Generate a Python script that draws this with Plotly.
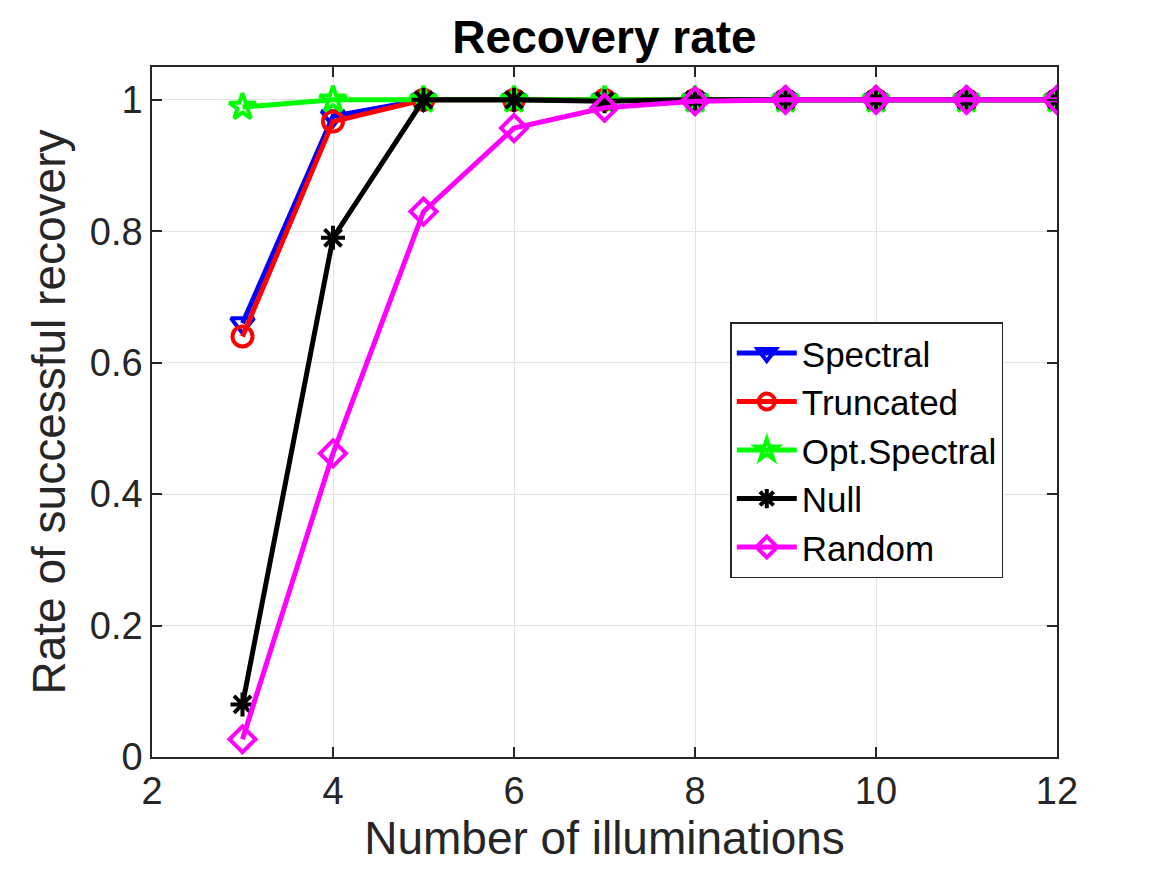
import plotly.graph_objects as go

x_vals = [3, 4, 5, 6, 7, 8, 9, 10, 11, 12]
spectral = [0.66, 0.975, 1, 1, 1, 1, 1, 1, 1, 1]
truncated = [0.64, 0.967, 1, 1, 1, 1, 1, 1, 1, 1]
opt_spectral = [0.989, 1, 1, 1, 1, 1, 1, 1, 1, 1]
null = [0.08, 0.79, 1, 1, 0.998, 1, 1, 1, 1, 1]
random_ = [0.027, 0.462, 0.83, 0.957, 0.988, 0.998, 1, 1, 1, 1]

series = [
    ("Spectral", spectral, "#0000ff", "triangle-down-open"),
    ("Truncated", truncated, "#ff0000", "circle-open"),
    ("Opt.Spectral", opt_spectral, "#00ff00", "star-open"),
    ("Null", null, "#000000", "asterisk-open"),
    ("Random", random_, "#ff00ff", "diamond-open"),
]

FONT = "Liberation Sans, Arial, Helvetica, sans-serif"

fig = go.Figure()
for name, ys, col, sym in series:
    fig.add_trace(go.Scatter(
        x=x_vals, y=ys, name=name, mode="lines+markers",
        line=dict(color=col, width=5),
        marker=dict(symbol=sym, size=20, color=col, line=dict(color=col, width=4)),
    ))

axis_common = dict(
    showline=True, linecolor="#262626", linewidth=1.5, mirror="ticks",
    ticks="inside", ticklen=10, tickcolor="#262626", tickwidth=1.5,
    showgrid=True, gridcolor="#e3e3e3", gridwidth=1, zeroline=False,
    tickfont=dict(family=FONT, size=38, color="#262626"),
)

fig.update_layout(
    width=1167, height=875,
    paper_bgcolor="white", plot_bgcolor="white",
    margin=dict(l=144, r=118, t=59, b=126),
    title=dict(text="<b>Recovery rate</b>", x=0.5, xref="paper", xanchor="center",
               y=0.967, yanchor="middle",
               font=dict(family=FONT, size=46, color="black")),
    xaxis=dict(range=[2, 12], tickvals=[2, 4, 6, 8, 10, 12], **axis_common,
               title=dict(text="Number of illuminations", standoff=10,
                          font=dict(family=FONT, size=46, color="#262626"))),
    yaxis=dict(range=[0, 1.05], tickvals=[0, 0.2, 0.4, 0.6, 0.8, 1],
               ticktext=["0", "0.2", "0.4", "0.6", "0.8", "1"], **axis_common,
               title=dict(text="Rate of successful recovery", standoff=10,
                          font=dict(family=FONT, size=46, color="#262626"))),
    legend=dict(x=0.639, y=0.63, xanchor="left", yanchor="top",
                bgcolor="white", bordercolor="#262626", borderwidth=1.5,
                font=dict(family=FONT, size=35, color="black"),
                itemwidth=60, tracegroupgap=0),
    showlegend=True,
)

fig.write_html("out.html")
